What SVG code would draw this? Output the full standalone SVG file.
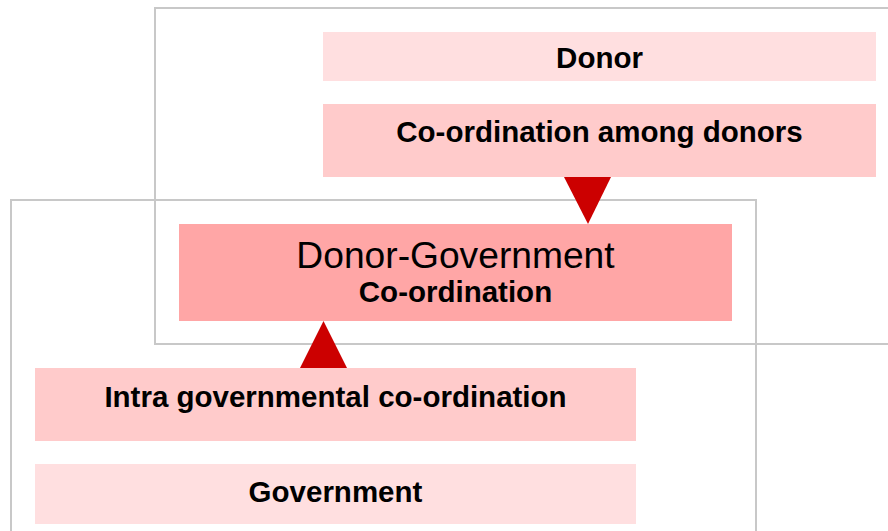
<svg xmlns="http://www.w3.org/2000/svg" width="888" height="531" viewBox="0 0 888 531">
<style>
.frame{fill:none;stroke:#c8c8c8;stroke-width:2}
.light{fill:#ffdfe0}
.mid{fill:#ffcbcb}
.strong{fill:#ffa6a6}
.b{font-family:"Liberation Sans",Arial,sans-serif;font-weight:bold;font-size:29.5px;fill:#000;text-anchor:middle}
.r{font-family:"Liberation Sans",Arial,sans-serif;font-size:37.2px;fill:#000;text-anchor:middle}
.arrow{fill:#cc0000}
</style>
<rect fill="#fff" x="0" y="0" width="888" height="531"/>
<g id="frames">
<rect id="donor-frame" class="frame" x="155" y="8" width="740" height="336"/>
<rect id="government-frame" class="frame" x="11" y="200" width="745" height="340"/>
</g>
<g id="donor">
<rect class="light" x="323" y="32" width="553" height="49"/>
<text class="b" x="599.5" y="68">Donor</text>
</g>
<g id="donor-coordination">
<rect class="mid" x="323" y="104" width="553" height="73"/>
<text class="b" x="599.5" y="142">Co-ordination among donors</text>
</g>
<g id="donor-government">
<rect class="strong" x="179" y="224" width="553" height="97"/>
<text class="r" x="455.5" y="268">Donor-Government</text>
<text class="b" x="455.5" y="302">Co-ordination</text>
</g>
<g id="intra-government">
<rect class="mid" x="35" y="368" width="601" height="73"/>
<text class="b" x="335.5" y="407">Intra governmental co-ordination</text>
</g>
<g id="government">
<rect class="light" x="35" y="464" width="601" height="60"/>
<text class="b" x="335.5" y="502">Government</text>
</g>
<g id="connectors">
<polygon class="arrow" points="564,177 611,177 588,224"/>
<polygon class="arrow" points="300,368 347,368 323.5,321"/>
</g>
</svg>
